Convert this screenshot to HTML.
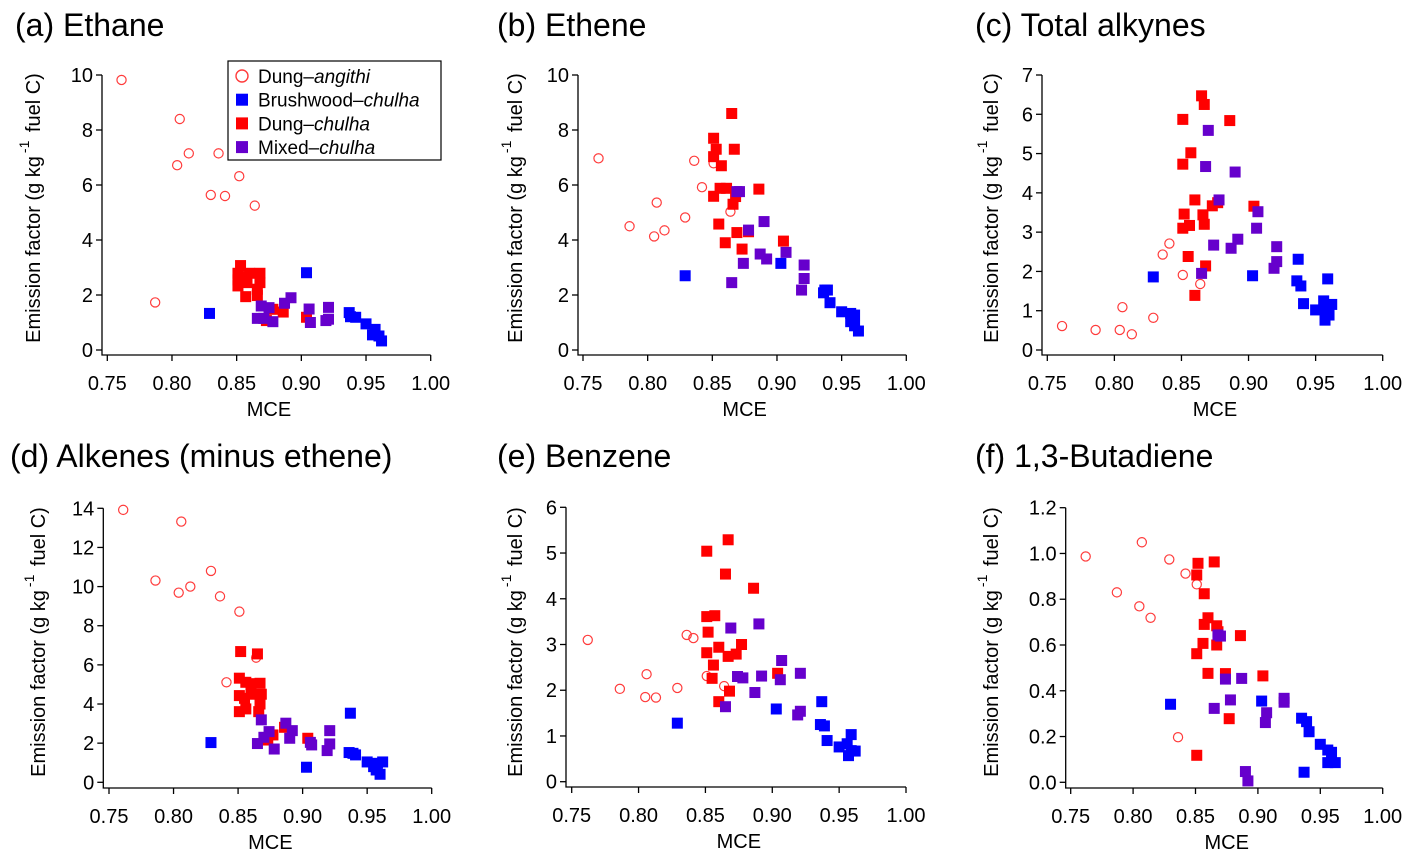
<!DOCTYPE html>
<html><head><meta charset="utf-8"><style>
body{margin:0;background:#fff;}
svg{display:block;font-family:"Liberation Sans",Arial,sans-serif;}
</style></head><body>
<svg id="fig" width="1415" height="862" viewBox="0 0 1415 862"></svg>
<script>
// ---- Data: MCE (x) and emission factor (y) per panel and series ----
const a_angithi_mce=[0.761,0.806,0.813,0.836,0.804,0.852,0.830,0.841,0.864,0.787];
const a_angithi_ef=[9.82,8.40,7.15,7.15,6.72,6.32,5.64,5.60,5.25,1.73];
const a_brush_mce=[0.829,0.904,0.937,0.938,0.942,0.950,0.957,0.955,0.960,0.962];
const a_brush_ef=[1.33,2.81,1.36,1.21,1.19,0.95,0.75,0.55,0.51,0.33];
const a_dung_mce=[0.853,0.851,0.851,0.851,0.856,0.860,0.858,0.868,0.868,0.866,0.857,0.866,0.878,0.886,0.873,0.904];
const a_dung_ef=[3.07,2.79,2.55,2.33,2.67,2.79,2.45,2.79,2.45,2.21,1.94,1.98,1.48,1.38,1.07,1.19];
const a_mixed_mce=[0.869,0.875,0.866,0.871,0.878,0.887,0.892,0.906,0.907,0.921,0.921,0.919];
const a_mixed_ef=[1.60,1.54,1.15,1.15,1.03,1.70,1.90,1.49,1.00,1.55,1.12,1.07];

const b_angithi_mce=[0.762,0.836,0.851,0.842,0.807,0.829,0.786,0.813,0.805,0.864];
const b_angithi_ef=[6.97,6.88,6.79,5.92,5.36,4.82,4.50,4.35,4.13,5.03];
const b_brush_mce=[0.829,0.903,0.937,0.939,0.936,0.941,0.950,0.957,0.960,0.957,0.960,0.963];
const b_brush_ef=[2.70,3.15,2.18,2.18,2.08,1.72,1.39,1.33,1.27,1.03,0.88,0.69];
const b_dung_mce=[0.865,0.851,0.853,0.867,0.851,0.857,0.856,0.861,0.851,0.886,0.868,0.866,0.855,0.869,0.878,0.860,0.873,0.905];
const b_dung_ef=[8.60,7.70,7.30,7.30,7.03,6.70,5.88,5.88,5.59,5.85,5.58,5.30,4.58,4.27,4.30,3.90,3.67,3.96];
const b_mixed_mce=[0.869,0.871,0.878,0.890,0.887,0.892,0.874,0.907,0.921,0.921,0.919,0.865];
const b_mixed_ef=[5.76,5.76,4.36,4.67,3.49,3.31,3.15,3.55,3.09,2.60,2.18,2.45];

const c_angithi_mce=[0.761,0.786,0.804,0.813,0.806,0.829,0.836,0.841,0.851,0.864];
const c_angithi_ef=[0.61,0.51,0.51,0.40,1.09,0.82,2.43,2.71,1.91,1.68];
const c_brush_mce=[0.829,0.903,0.937,0.936,0.939,0.959,0.941,0.950,0.956,0.962,0.957,0.960,0.957];
const c_brush_ef=[1.86,1.89,2.31,1.76,1.63,1.81,1.18,1.02,1.25,1.16,0.98,0.89,0.76];
const c_dung_mce=[0.865,0.867,0.851,0.886,0.857,0.851,0.860,0.877,0.873,0.904,0.852,0.866,0.856,0.851,0.867,0.855,0.868,0.860];
const c_dung_ef=[6.47,6.25,5.87,5.84,5.02,4.73,3.82,3.75,3.67,3.66,3.46,3.44,3.17,3.10,3.20,2.38,2.14,1.39];
const c_mixed_mce=[0.870,0.868,0.890,0.878,0.907,0.906,0.892,0.874,0.887,0.921,0.921,0.919,0.865];
const c_mixed_ef=[5.59,4.67,4.53,3.82,3.52,3.10,2.82,2.67,2.59,2.63,2.25,2.08,1.95];

const d_angithi_mce=[0.761,0.806,0.829,0.786,0.813,0.804,0.836,0.851,0.864,0.841];
const d_angithi_ef=[13.92,13.32,10.80,10.31,10.00,9.69,9.50,8.72,6.37,5.11];
const d_brush_mce=[0.829,0.903,0.937,0.936,0.939,0.941,0.950,0.955,0.957,0.960,0.962,0.958];
const d_brush_ef=[2.03,0.77,3.53,1.52,1.48,1.40,1.04,0.80,0.63,0.41,1.04,0.97];
const d_dung_mce=[0.852,0.865,0.851,0.856,0.860,0.867,0.851,0.855,0.860,0.868,0.867,0.856,0.851,0.866,0.877,0.886,0.873,0.904];
const d_dung_ef=[6.68,6.56,5.32,5.11,5.04,5.06,4.43,4.29,4.50,4.50,4.00,3.75,3.61,3.61,2.42,2.81,2.16,2.25];
const d_mixed_mce=[0.868,0.887,0.892,0.874,0.870,0.890,0.865,0.878,0.906,0.907,0.921,0.921,0.919];
const d_mixed_ef=[3.19,3.02,2.64,2.59,2.30,2.25,1.98,1.70,2.04,1.91,2.64,1.96,1.62];

const e_angithi_mce=[0.762,0.806,0.786,0.805,0.813,0.829,0.836,0.841,0.851,0.864];
const e_angithi_ef=[3.10,2.35,2.03,1.85,1.84,2.05,3.21,3.14,2.31,2.09];
const e_brush_mce=[0.829,0.903,0.937,0.936,0.939,0.941,0.950,0.959,0.956,0.959,0.962,0.957];
const e_brush_ef=[1.28,1.59,1.75,1.25,1.22,0.90,0.76,1.03,0.83,0.68,0.67,0.57];
const e_dung_mce=[0.867,0.851,0.865,0.886,0.851,0.857,0.852,0.860,0.877,0.851,0.867,0.873,0.856,0.855,0.904,0.868,0.860];
const e_dung_ef=[5.29,5.04,4.54,4.23,3.61,3.63,3.27,2.94,3.00,2.82,2.74,2.79,2.55,2.26,2.37,1.98,1.75];
const e_mixed_mce=[0.869,0.890,0.907,0.874,0.878,0.892,0.906,0.921,0.887,0.865,0.921,0.919];
const e_mixed_ef=[3.36,3.45,2.65,2.30,2.27,2.31,2.23,2.37,1.95,1.64,1.54,1.46];

const f_angithi_mce=[0.762,0.807,0.829,0.842,0.851,0.787,0.805,0.814,0.836];
const f_angithi_ef=[0.987,1.049,0.974,0.912,0.865,0.830,0.769,0.719,0.197];
const f_brush_mce=[0.830,0.903,0.935,0.939,0.941,0.950,0.956,0.959,0.956,0.962,0.937];
const f_brush_ef=[0.341,0.355,0.280,0.265,0.221,0.166,0.141,0.131,0.086,0.086,0.044];
const f_dung_mce=[0.852,0.865,0.851,0.857,0.860,0.857,0.867,0.868,0.886,0.856,0.867,0.851,0.860,0.874,0.904,0.877,0.851];
const f_dung_ef=[0.957,0.963,0.906,0.824,0.719,0.690,0.684,0.658,0.641,0.607,0.600,0.562,0.476,0.475,0.465,0.278,0.118];
const f_mixed_mce=[0.868,0.870,0.874,0.887,0.878,0.865,0.921,0.921,0.907,0.906,0.890,0.892];
const f_mixed_ef=[0.644,0.639,0.451,0.454,0.360,0.323,0.367,0.350,0.304,0.261,0.047,0.006];

const xTickLabels=["0.75","0.80","0.85","0.90","0.95","1.00"];
const xTickValues=[0.75,0.80,0.85,0.90,0.95,1.00];
const yTicksA=[0,2,4,6,8,10];
const yTicksB=[0,2,4,6,8,10];
const yTicksC=[0,1,2,3,4,5,6,7];
const yTicksD=[0,2,4,6,8,10,12,14];
const yTicksE=[0,1,2,3,4,5,6];
const yTicksF=[0.0,0.2,0.4,0.6,0.8,1.0,1.2];
const panelTitles=["(a) Ethane","(b) Ethene","(c) Total alkynes","(d) Alkenes (minus ethene)","(e) Benzene","(f) 1,3-Butadiene"];

// ---- layout (pixel geometry) ----
const NS="http://www.w3.org/2000/svg";
const svg=document.getElementById('fig');
function mk(tag,attrs,parent){const e=document.createElementNS(NS,tag);for(const k in attrs)e.setAttribute(k,attrs[k]);(parent||svg).appendChild(e);return e;}

const panels=[
 {key:'a',axL:102,axB:355,x0:107.3,x1:430.7,yb:350,yt:75,ticks:yTicksA,dec:0,tx:15,ty:36,ylx:40,yly:208,series:[a_angithi_mce,a_angithi_ef,a_brush_mce,a_brush_ef,a_dung_mce,a_dung_ef,a_mixed_mce,a_mixed_ef]},
 {key:'b',axL:578,axB:355,x0:583,x1:906.3,yb:350,yt:75,ticks:yTicksB,dec:0,tx:497,ty:36,ylx:522,yly:208,series:[b_angithi_mce,b_angithi_ef,b_brush_mce,b_brush_ef,b_dung_mce,b_dung_ef,b_mixed_mce,b_mixed_ef]},
 {key:'c',axL:1042,axB:355,x0:1047.3,x1:1382.7,yb:350,yt:75,ticks:yTicksC,dec:0,tx:975,ty:36,ylx:998,yly:208,series:[c_angithi_mce,c_angithi_ef,c_brush_mce,c_brush_ef,c_dung_mce,c_dung_ef,c_mixed_mce,c_mixed_ef]},
 {key:'d',axL:103.3,axB:788,x0:109,x1:431.7,yb:782.3,yt:508.3,ticks:yTicksD,dec:0,tx:10,ty:467,ylx:45,yly:642,series:[d_angithi_mce,d_angithi_ef,d_brush_mce,d_brush_ef,d_dung_mce,d_dung_ef,d_mixed_mce,d_mixed_ef]},
 {key:'e',axL:566,axB:787,x0:571.7,x1:906,yb:781.7,yt:507.3,ticks:yTicksE,dec:0,tx:497,ty:467,ylx:522,yly:642,series:[e_angithi_mce,e_angithi_ef,e_brush_mce,e_brush_ef,e_dung_mce,e_dung_ef,e_mixed_mce,e_mixed_ef]},
 {key:'f',axL:1065.7,axB:788,x0:1070.7,x1:1382.7,yb:782.3,yt:507.7,ticks:yTicksF,dec:1,tx:975,ty:467,ylx:998,yly:642,series:[f_angithi_mce,f_angithi_ef,f_brush_mce,f_brush_ef,f_dung_mce,f_dung_ef,f_mixed_mce,f_mixed_ef]}
];
const seriesStyle=[{name:'dung-angithi',color:'#ff3b3b',open:true},{name:'brushwood-chulha',color:'#0000ff'},{name:'dung-chulha',color:'#ff0000'},{name:'mixed-chulha',color:'#6600cc'}];

panels.forEach((p,pi)=>{
  const g=mk('g',{});
  
  
  const ymax=p.ticks[p.ticks.length-1];
  const xS=v=>p.x0+(v-0.75)/0.25*(p.x1-p.x0);
  const yS=v=>p.yb-(v/ymax)*(p.yb-p.yt);
  const t=mk('text',{x:p.tx,y:p.ty,'font-size':32,fill:'#000'},g);
  t.textContent=panelTitles[pi];
  
  
  const ax=mk('path',{d:`M${p.axL},${p.yt} V${p.axB} H${p.x1}`,stroke:'#000','stroke-width':1.3,fill:'none'},g);
  
  
  p.ticks.forEach(v=>{
    const y=yS(v);
    mk('line',{x1:p.axL-6,x2:p.axL,y1:y,y2:y,stroke:'#000','stroke-width':1.3},g);
    const tl=mk('text',{x:p.axL-9,y:y+7,'font-size':20,'text-anchor':'end'},g);
    tl.textContent=v.toFixed(p.dec);
    
    
  });
  xTickValues.forEach((v,i)=>{
    const x=xS(v);
    mk('line',{x1:x,x2:x,y1:p.axB,y2:p.axB+6,stroke:'#000','stroke-width':1.3},g);
    const tl=mk('text',{x:x,y:p.axB+35,'font-size':20,'text-anchor':'middle'},g);
    tl.textContent=xTickLabels[i];
    
    
  });
  const xl=mk('text',{x:(p.x0+p.x1)/2,y:p.axB+61,'font-size':20,'text-anchor':'middle'},g);
  xl.textContent='MCE';
  
  
  const yl=mk('text',{x:0,y:0,'font-size':20,'text-anchor':'middle',transform:`translate(${p.ylx},${p.yly}) rotate(-90)`},g);
  
  
  yl.innerHTML='Emission factor (g kg<tspan dx="3" dy="-11" font-size="14">-1</tspan><tspan dx="3" dy="11"> fuel C)</tspan>';
  for(let s=0;s<4;s++){
    const xs=p.series[2*s],ys=p.series[2*s+1],st=seriesStyle[s];
    xs.forEach((xv,i)=>{
      const cx=xS(xv),cy=yS(ys[i]);
      let m;
      if(st.open){m=mk('circle',{cx:cx,cy:cy,r:4.6,fill:'none',stroke:st.color,'stroke-width':1.2},g);}
      else{m=mk('rect',{x:cx-5.5,y:cy-5.5,width:11,height:11,fill:st.color},g);}
      
      
    });
  }
});

const lg=mk('g',{});


mk('rect',{x:228,y:61,width:213,height:99,fill:'#fff',stroke:'#000','stroke-width':1.2},lg);
const legItems=[['Dung–','angithi'],['Brushwood–','chulha'],['Dung–','chulha'],['Mixed–','chulha']];
legItems.forEach((it,i)=>{
  const y=76+i*23.7,st=seriesStyle[i];
  let m;
  if(st.open){m=mk('circle',{cx:242,cy:y,r:6,fill:'none',stroke:st.color,'stroke-width':1.4},lg);}
  else{m=mk('rect',{x:236,y:y-6,width:12,height:12,fill:st.color},lg);}
  
  
  const t=mk('text',{x:258,y:y+7,'font-size':19},lg);
  t.innerHTML=it[0]+'<tspan font-style="italic">'+it[1]+'</tspan>';
  
  
});
</script>
</body></html>
